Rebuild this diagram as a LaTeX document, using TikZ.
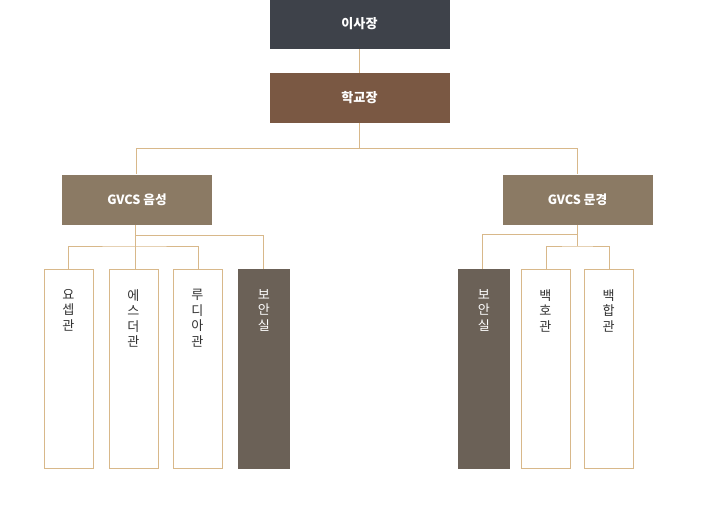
\documentclass[tikz,border=0pt]{standalone}
\usepackage{fontspec}
\setmainfont{Noto Sans CJK KR}
\definecolor{topc}{HTML}{3E424A}
\definecolor{princ}{HTML}{7A5843}
\definecolor{campc}{HTML}{8B7A64}
\definecolor{secc}{HTML}{6B6157}
\definecolor{linec}{HTML}{D8B88A}
\definecolor{txtc}{HTML}{333333}
\begin{document}
\begin{tikzpicture}[x=0.75pt,y=-0.75pt,
  hdr/.style={draw=none,minimum width=135pt,minimum height=37.5pt,inner sep=0pt,
    text=white,font=\fontsize{9.8}{11}\selectfont\bfseries},
  camp/.style={fill=campc,draw=none,minimum width=112.5pt,minimum height=37.5pt,inner sep=0pt,
    text=white,font=\fontsize{9.5}{11}\selectfont\bfseries},
  bldg/.style={draw=linec,line width=0.75pt,fill=white,minimum width=36.75pt,minimum height=149.25pt,inner sep=0pt},
  sec/.style={fill=secc,draw=none,minimum width=39pt,minimum height=150pt,inner sep=0pt},
  vtxt/.style={text=txtc,font=\fontsize{9.8}{11.6}\selectfont,align=center,anchor=north,inner sep=0pt},
  vtxtw/.style={text=white,font=\fontsize{9.8}{11.6}\selectfont,align=center,anchor=north,inner sep=0pt},
  conn/.style={draw=linec,line width=0.75pt}]
\useasboundingbox (0,0) rectangle (720,511);
% top
\node[hdr,fill=topc] (chair) at (359.5,24) {이사장};
\node[hdr,fill=princ] (princ) at (359.5,98) {학교장};
\node[camp] (eum) at (137,199.5) {GVCS 음성};
\node[camp] (mun) at (577.5,199.5) {GVCS 문경};
% buildings left
\node[bldg] (b1) at (68.5,368.5) {};
\node[bldg] (b2) at (133.5,368.5) {};
\node[bldg] (b3) at (197.5,368.5) {};
\node[sec] (s1) at (264,369) {};
% buildings right
\node[sec] (s2) at (484,369) {};
\node[bldg] (b4) at (545.5,368.5) {};
\node[bldg] (b5) at (608.5,368.5) {};
% texts
\node[vtxt] (t1) at (68.5,289) {요\\셉\\관};
\node[vtxt] (t2) at (133.5,289) {에\\스\\더\\관};
\node[vtxt] (t3) at (197.5,289) {루\\디\\아\\관};
\node[vtxtw] (t4) at (264,289) {보\\안\\실};
\node[vtxtw] (t5) at (484,289) {보\\안\\실};
\node[vtxt] (t6) at (545.5,289) {백\\호\\관};
\node[vtxt] (t7) at (608.5,289) {백\\합\\관};
% coordinates
\coordinate (j1) at (359.5,148);
\coordinate (jl) at (136,148);
\coordinate (jr) at (577,148);
\coordinate (l1) at (135.5,235);
\coordinate (l2) at (135.5,246);
\coordinate (r1) at (577,234.5);
\coordinate (r2) at (577,246);
% connectors
\draw[conn] (chair.south) -- (princ.north);
\draw[conn] (princ.south) -- (j1);
\draw[conn] (jl) -- (jr);
\draw[conn] (jl) -- (jl |- eum.north);
\draw[conn] (jr) -- (jr |- mun.north);
\draw[conn] (135.5,224.5) -- (135.5,269);
\draw[conn] (l1) -| (263,269);
\draw[conn] (68,269) |- (l2) -| (198,269);
\draw[conn] (r1 |- mun.south) -- (r2);
\draw[conn] (r1) -| (482,269);
\draw[conn] (546,269) |- (r2) -| (609,269);
\end{tikzpicture}
\end{document}
